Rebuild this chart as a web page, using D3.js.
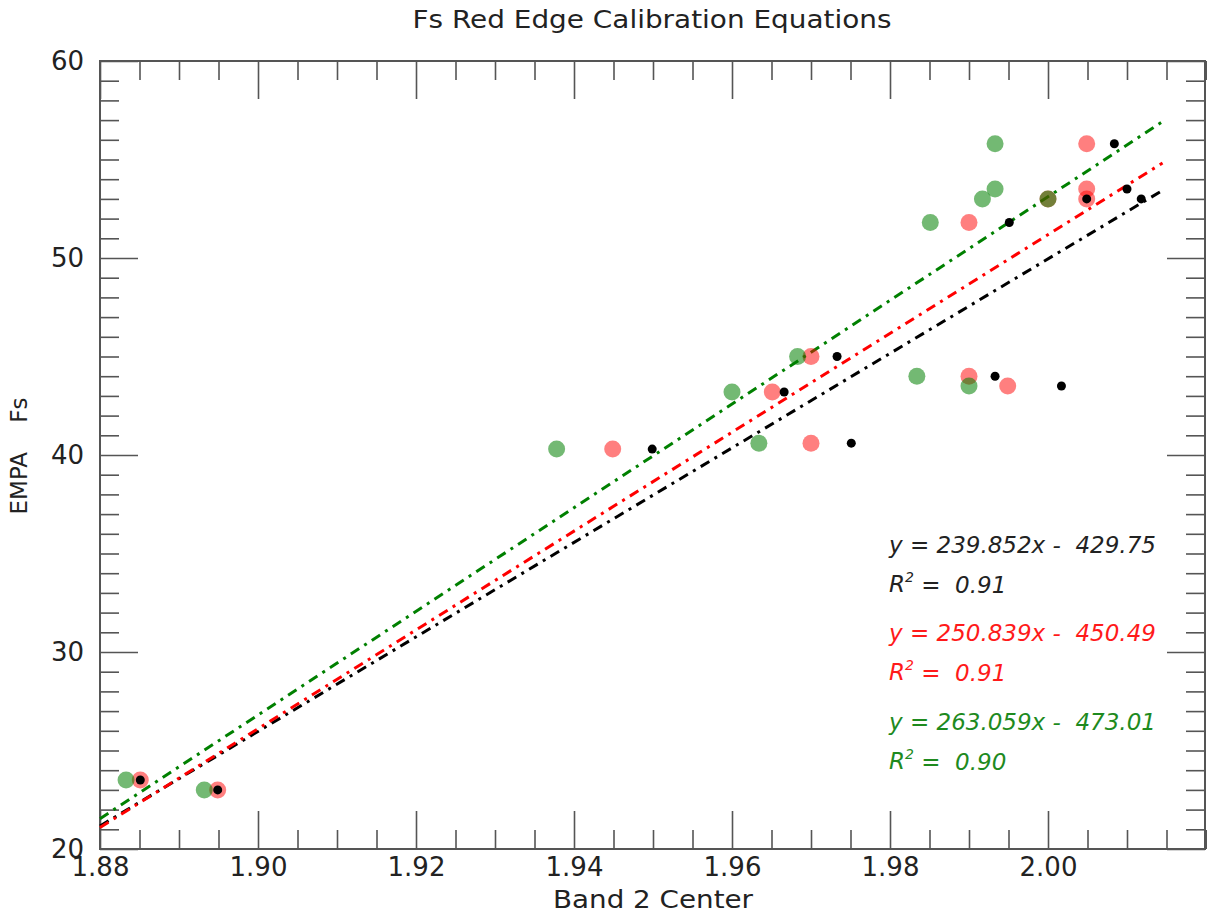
<!DOCTYPE html>
<html>
<head>
<meta charset="utf-8">
<script src="https://cdn.jsdelivr.net/npm/d3@7"></script>
<style>
  html, body { margin: 0; padding: 0; background: #fff; }
  svg { display: block; font-family: "DejaVu Sans", sans-serif; }
  .keep { white-space: pre; }
</style>
</head>
<body>
<svg id="chart" width="1207" height="918"></svg>
<script>
// EMPA Fs reference values, one per sample
const empaFs = [23.5, 23.0, 40.3, 43.2, 45.0, 40.6, 44.0, 43.5, 51.8, 55.8, 53.5, 53.0, 53.0];
// Band 2 center for each sample, one array per calibration set
const greenX = [1.8833, 1.8932, 1.9378, 1.9600, 1.9683, 1.9634, 1.9834, 1.9900, 1.9851, 1.9933, 1.9933, 1.9917, 2.0000];
const redX   = [1.8851, 1.8949, 1.9449, 1.9651, 1.9700, 1.9700, 1.9900, 1.9949, 1.9900, 2.0049, 2.0049, 2.0000, 2.0049];
const blackX = [1.8851, 1.8949, 1.9499, 1.9666, 1.9733, 1.9751, 1.9933, 2.0017, 1.9951, 2.0084, 2.0100, 2.0049, 2.0118];

// Fitted calibration lines: slope, intercept, R^2
const fitSlopes = [239.852, 250.839, 263.059];
const fitIntercepts = [-429.75, -450.49, -473.01];
const fitR2 = ["0.91", "0.91", "0.90"];
const fitRange = [1.88, 2.0145];

// Axis ticks
const xMajorTicks = [1.88, 1.90, 1.92, 1.94, 1.96, 1.98, 2.00];
const yMajorTicks = [20, 30, 40, 50, 60];

const svg = d3.select("#chart");
const x = d3.scaleLinear().domain([1.88, 2.02]).range([100, 1206]);
const y = d3.scaleLinear().domain([20, 60]).range([849, 61]);

const axisColor = "#555";
const textColor = "#222";

const xMinor = d3.range(0, 29).map(i => +(1.88 + i * 0.005).toFixed(3)).filter(v => !xMajorTicks.some(m => Math.abs(m - v) < 1e-6));
const yMinor = d3.range(20, 61).filter(v => v % 10 !== 0);

function styleAxis(g) {
  g.selectAll(".domain").remove();
  g.selectAll(".tick line").attr("stroke", axisColor).attr("stroke-width", 1.6);
  g.selectAll(".tick text").attr("fill", textColor).attr("font-size", 26)
    .attr("font-family", "DejaVu Sans, sans-serif");
}

// Bottom axis
svg.append("g").attr("transform", "translate(0,849)")
  .call(d3.axisBottom(x).tickValues(xMajorTicks).tickSize(-38).tickPadding(9).tickFormat(d3.format(".2f")))
  .call(styleAxis);
svg.append("g").attr("transform", "translate(0,849)")
  .call(d3.axisBottom(x).tickValues(xMinor).tickSize(-19).tickFormat(""))
  .call(styleAxis);
// Top axis
svg.append("g").attr("transform", "translate(0,61)")
  .call(d3.axisTop(x).tickValues(xMajorTicks).tickSize(-38).tickFormat(""))
  .call(styleAxis);
svg.append("g").attr("transform", "translate(0,61)")
  .call(d3.axisTop(x).tickValues(xMinor).tickSize(-19).tickFormat(""))
  .call(styleAxis);
// Left axis
svg.append("g").attr("transform", "translate(100,0)")
  .call(d3.axisLeft(y).tickValues(yMajorTicks).tickSize(-38).tickPadding(16).tickFormat(d3.format("d")))
  .call(styleAxis);
svg.append("g").attr("transform", "translate(100,0)")
  .call(d3.axisLeft(y).tickValues(yMinor).tickSize(-19).tickFormat(""))
  .call(styleAxis);
// Right axis
svg.append("g").attr("transform", "translate(1205,0)")
  .call(d3.axisRight(y).tickValues(yMajorTicks).tickSize(-38).tickFormat(""))
  .call(styleAxis);
svg.append("g").attr("transform", "translate(1205,0)")
  .call(d3.axisRight(y).tickValues(yMinor).tickSize(-19).tickFormat(""))
  .call(styleAxis);

// Plot frame
svg.append("rect")
  .attr("x", x(1.88)).attr("y", y(60))
  .attr("width", 1205 - x(1.88)).attr("height", y(20) - y(60))
  .attr("fill", "none").attr("stroke", axisColor).attr("stroke-width", 2);

// Calibration lines
const lineColors = ["#000000", "#ff0000", "#008000"];
const line = d3.line().x(d => x(d[0])).y(d => y(d[1]));
fitSlopes.forEach((m, i) => {
  const pts = fitRange.map(v => [v, m * v + fitIntercepts[i]]);
  svg.append("path").attr("d", line(pts))
    .attr("fill", "none").attr("stroke", lineColors[i]).attr("stroke-width", 3)
    .attr("stroke-dasharray", "10,6,3,6");
});

// Sample points: red set, green set on top, black dots last
const pts = svg.append("g");
pts.selectAll("circle.r").data(empaFs).join("circle").attr("class", "r")
  .attr("cx", (d, i) => x(redX[i])).attr("cy", d => y(d)).attr("r", 8.5)
  .attr("fill", "rgba(255,0,0,0.5)");
pts.selectAll("circle.g").data(empaFs).join("circle").attr("class", "g")
  .attr("cx", (d, i) => x(greenX[i])).attr("cy", d => y(d)).attr("r", 8.5)
  .attr("fill", "rgba(0,128,0,0.55)");
pts.selectAll("circle.k").data(empaFs).join("circle").attr("class", "k")
  .attr("cx", (d, i) => x(blackX[i])).attr("cy", d => y(d)).attr("r", 4.5)
  .attr("fill", "#000");

// Equation annotations
const eqColors = ["#222222", "#ff1a1a", "#1e8a1e"];
const eqY = [545, 633, 722];
fitSlopes.forEach((m, i) => {
  const g = svg.append("g").attr("fill", eqColors[i]).attr("font-size", 23).attr("font-style", "italic");
  g.append("text").attr("class", "keep").attr("x", 889).attr("y", eqY[i]).attr("dy", "0.35em")
    .text(`y = ${m.toFixed(3)}x -  ${Math.abs(fitIntercepts[i]).toFixed(2)}`);
  const r = g.append("text").attr("class", "keep").attr("x", 889).attr("y", eqY[i] + 39).attr("dy", "0.35em");
  r.append("tspan").text("R");
  r.append("tspan").attr("font-size", 14).attr("dy", "-0.7em").text("2");
  r.append("tspan").attr("dy", "0.45em").text(` =  ${fitR2[i]}`);
});

// Titles
svg.append("text").attr("x", 652).attr("y", 19).attr("dy", "0.35em").attr("text-anchor", "middle")
  .attr("font-size", 25).attr("fill", textColor)
  .attr("textLength", 479).attr("lengthAdjust", "spacingAndGlyphs")
  .text("Fs Red Edge Calibration Equations");
svg.append("text").attr("x", 653).attr("y", 900).attr("dy", "0.35em").attr("text-anchor", "middle")
  .attr("font-size", 24).attr("fill", textColor)
  .attr("textLength", 200).attr("lengthAdjust", "spacingAndGlyphs")
  .text("Band 2 Center");
svg.append("text").attr("class", "keep").attr("transform", "translate(19,456) rotate(-90)")
  .attr("dy", "0.35em").attr("text-anchor", "middle")
  .attr("font-size", 23).attr("fill", textColor).text("EMPA    Fs");
</script>
</body>
</html>
